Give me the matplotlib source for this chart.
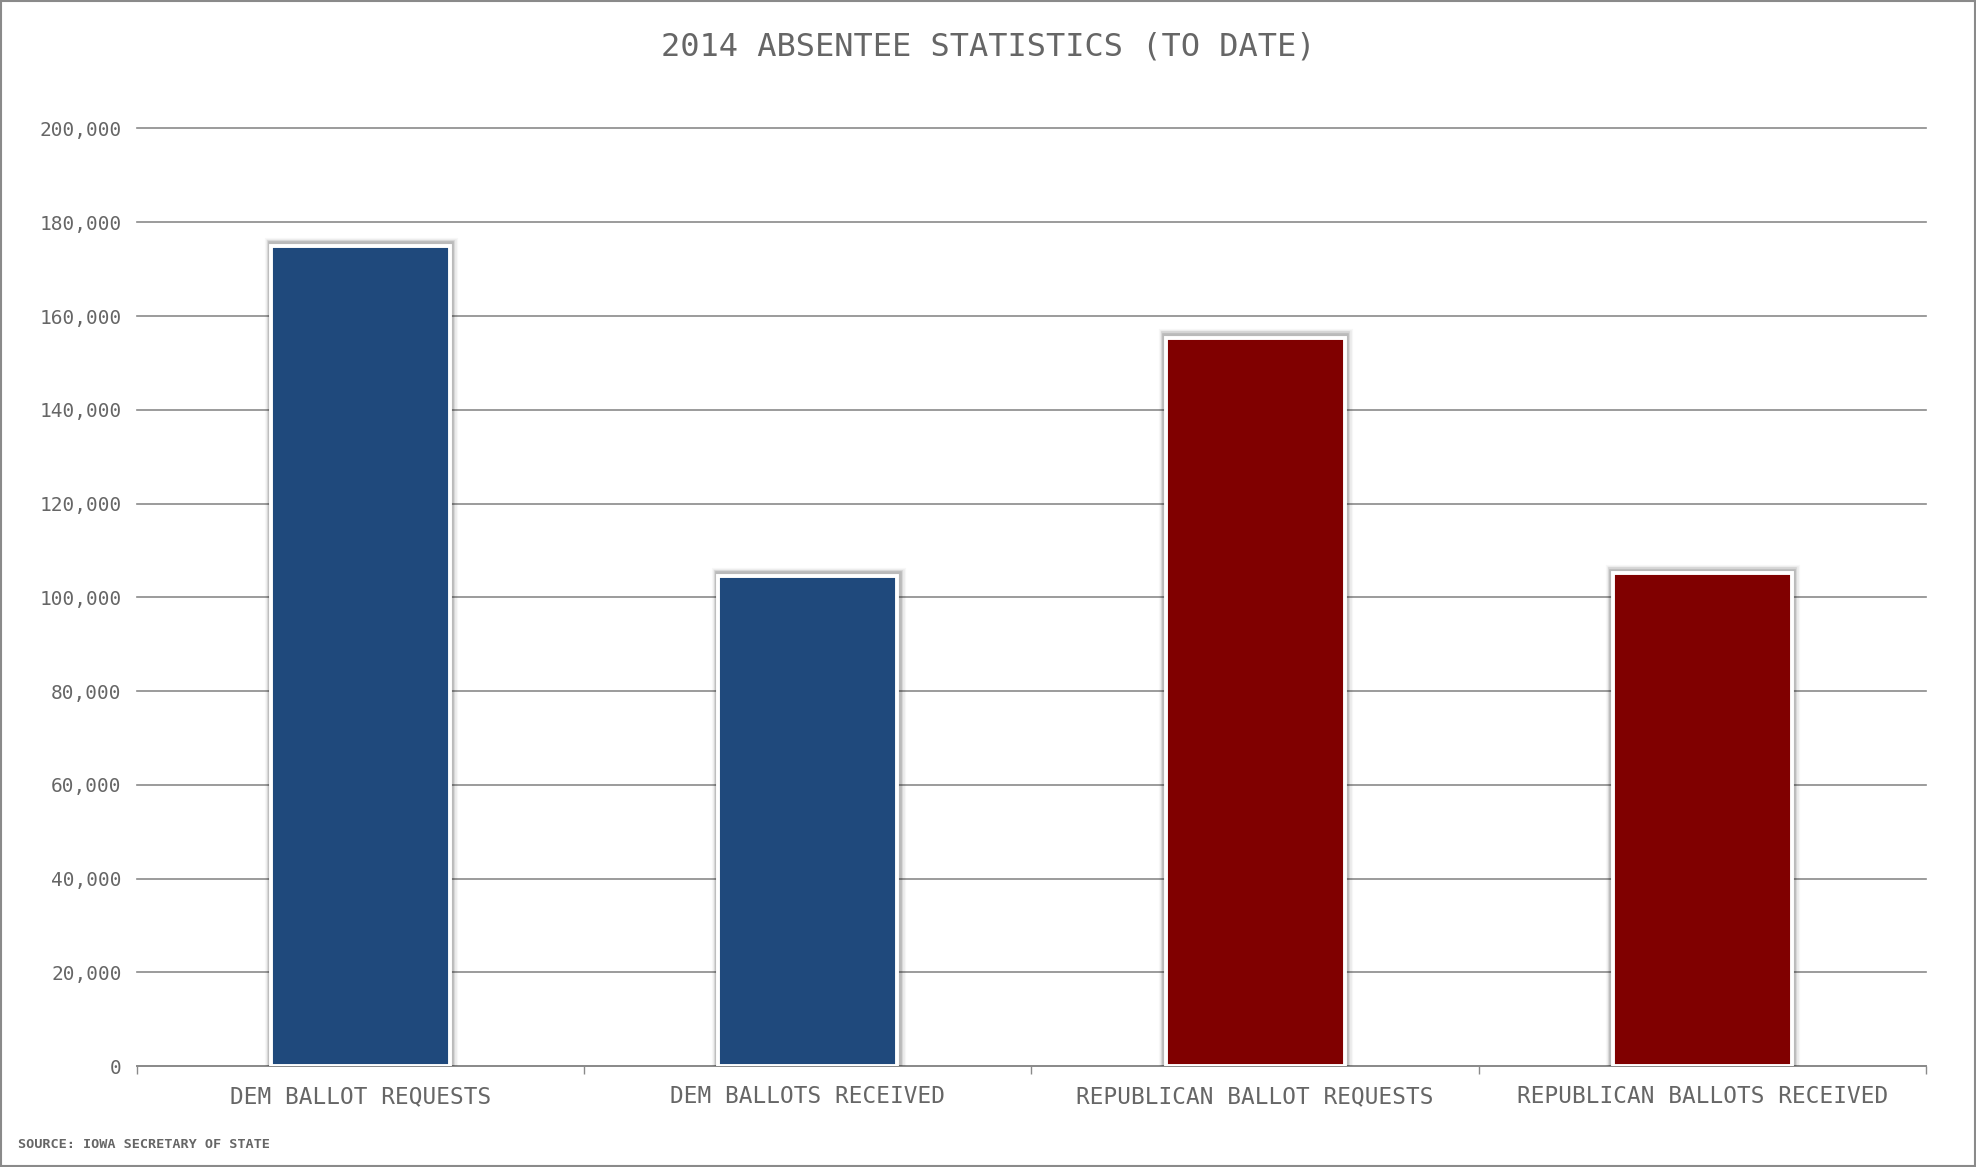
import matplotlib
matplotlib.use("Agg")
import matplotlib.pyplot as plt
import matplotlib.patheffects as pe
from matplotlib.patches import Rectangle
from matplotlib.ticker import FuncFormatter, FixedLocator

categories = ["DEM BALLOT REQUESTS", "DEM BALLOTS RECEIVED",
              "REPUBLICAN BALLOT REQUESTS", "REPUBLICAN BALLOTS RECEIVED"]
values = [175000, 104600, 155400, 105100]
colors = ["#1F497C", "#1F497C", "#800000", "#800000"]
yticks = [0, 20000, 40000, 60000, 80000, 100000, 120000, 140000, 160000, 180000, 200000]

title = "2014 ABSENTEE STATISTICS (TO DATE)"
source = "SOURCE: IOWA SECRETARY OF STATE"

FONT = "DejaVu Sans Mono"
TXT = "#666666"

fig = plt.figure(figsize=(19.76, 11.67), dpi=100)
ax = fig.add_axes([0.0693, 0.0865, 0.9054, 0.8034])

x = list(range(len(categories)))
bars = ax.bar(x, values, width=0.40, color=colors, edgecolor="white",
              linewidth=2.8, zorder=3)
for b in bars:
    b.set_path_effects([
        pe.Stroke(linewidth=11, foreground="#000000", alpha=0.03, offset=(0.3, 0.8)),
        pe.Stroke(linewidth=9, foreground="#000000", alpha=0.05, offset=(0.3, 0.8)),
        pe.Stroke(linewidth=7, foreground="#000000", alpha=0.09, offset=(0.3, 0.8)),
        pe.Stroke(linewidth=5.5, foreground="#000000", alpha=0.12, offset=(0.3, 0.6)),
        pe.Normal(),
    ])

ax.set_xlim(-0.5, len(categories) - 0.5)
ax.set_ylim(0, 200000)
ax.set_yticks(yticks)
ax.yaxis.set_major_formatter(FuncFormatter(lambda v, p: f"{int(v):,}"))
ax.set_xticks(x)
ax.set_xticklabels(categories)
ax.xaxis.set_minor_locator(FixedLocator([i - 0.5 for i in range(len(categories) + 1)]))

ax.grid(axis="y", color="#8a8a8a", linewidth=1.2, zorder=0)
for gl in ax.get_ygridlines():
    gl.set_clip_on(False)
ax.set_axisbelow(True)
for s in ["top", "right", "left"]:
    ax.spines[s].set_visible(False)
ax.spines["bottom"].set_color("#8a8a8a")
ax.spines["bottom"].set_linewidth(1.3)

ax.tick_params(axis="y", length=0, pad=11, labelsize=14, labelcolor=TXT)
ax.tick_params(axis="x", which="major", length=0, pad=14, labelsize=16.4, labelcolor=TXT)
ax.tick_params(axis="x", which="minor", length=5.5, width=1, color="#8a8a8a", direction="out")
for lab in ax.get_xticklabels() + ax.get_yticklabels():
    lab.set_fontfamily(FONT)

fig.text(0.5, 0.960, title, ha="center", va="center", fontsize=23,
         color=TXT, fontfamily=FONT)
fig.text(0.0091, 0.0197, source, ha="left", va="center", fontsize=9.7,
         color=TXT, fontweight="bold", fontfamily=FONT)

fig.patches.append(Rectangle((0.0006, 0.001), 0.9988, 0.998, transform=fig.transFigure,
                             fill=False, edgecolor="#8a8a8a", linewidth=1.5))

fig.savefig("out.png", dpi=100, facecolor="white")
